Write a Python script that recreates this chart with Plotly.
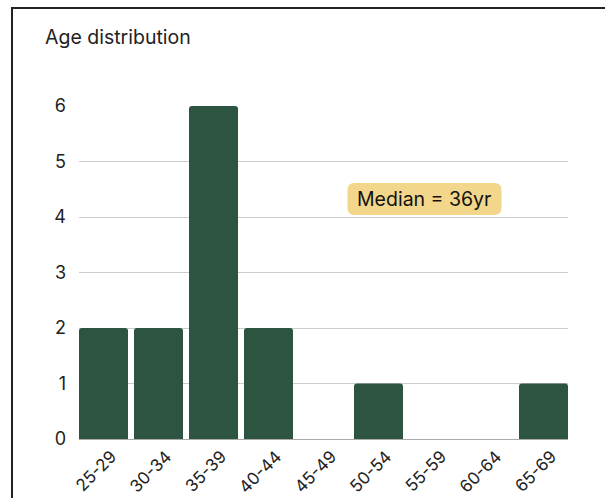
import plotly.graph_objects as go

categories = ["25-29", "30-34", "35-39", "40-44", "45-49", "50-54", "55-59", "60-64", "65-69"]
counts = [2, 2, 6, 2, 0, 1, 0, 0, 1]
y_ticks = [0, 1, 2, 3, 4, 5, 6]
median_label = "Median = 36yr"
median_pos = (5.836, 4.324)

BAR = "#2c5440"
GAP = 0.109
FONT = "Inter, 'Noto Sans', sans-serif"

fig = go.Figure(go.Bar(x=list(range(len(categories))), y=counts, marker_color=BAR,
                       marker_line_width=0))

fig.update_layout(
    width=605, height=498,
    margin=dict(l=79, r=37, t=106, b=59, autoexpand=False),
    paper_bgcolor="white", plot_bgcolor="white",
    bargap=GAP, barcornerradius=3,
    showlegend=False,
    font=dict(family=FONT, color="#222", size=18),
)
fig.update_xaxes(
    tickmode="array", tickvals=list(range(len(categories))), ticktext=categories,
    range=[-0.5 + GAP / 2, len(categories) - 0.5 - GAP / 2],
    tickangle=-45, showgrid=False, zeroline=False, showline=True,
    linecolor="#aaaaaa", linewidth=1, ticks="", automargin=False,
    ticklabelshift=8, ticklabelstandoff=0,
    tickfont=dict(size=17, color="#222"),
)
fig.update_yaxes(
    range=[0, 6], tickmode="array", tickvals=y_ticks, automargin=False,
    showgrid=True, gridcolor="#cccccc", gridwidth=1, zeroline=False,
    ticks="", ticklabelstandoff=12, tickfont=dict(size=18, color="#222"),
)

# frame border
fig.add_shape(type="rect", xref="paper", yref="paper",
              x0=(12 - 79) / 489, x1=1.2, y0=-0.4, y1=(439 - 8) / 333,
              line=dict(color="#222222", width=2), fillcolor="rgba(0,0,0,0)", layer="above")

# title
fig.add_annotation(text="Age distribution", xref="paper", yref="paper",
                   x=(43 - 79) / 489, y=(439 - 37) / 333, xanchor="left", yanchor="middle",
                   showarrow=False, font=dict(size=19.5, color="#222", family=FONT))

# median label with rounded box
w, h, r = 77, 16, 7
path = (f"M {-w + r},{-h} L {w - r},{-h} Q {w},{-h} {w},{-h + r} L {w},{h - r} "
        f"Q {w},{h} {w - r},{h} L {-w + r},{h} Q {-w},{h} {-w},{h - r} "
        f"L {-w},{-h + r} Q {-w},{-h} {-w + r},{-h} Z")
fig.add_shape(type="path", xref="x", yref="y", xsizemode="pixel", ysizemode="pixel",
              xanchor=median_pos[0], yanchor=median_pos[1], path=path,
              fillcolor="#f2d68b", line=dict(width=0), layer="above")
fig.add_annotation(text=median_label, x=median_pos[0], y=median_pos[1], xref="x", yref="y",
                   showarrow=False, font=dict(size=19.5, color="#111", family=FONT))

fig.write_html("out.html")
